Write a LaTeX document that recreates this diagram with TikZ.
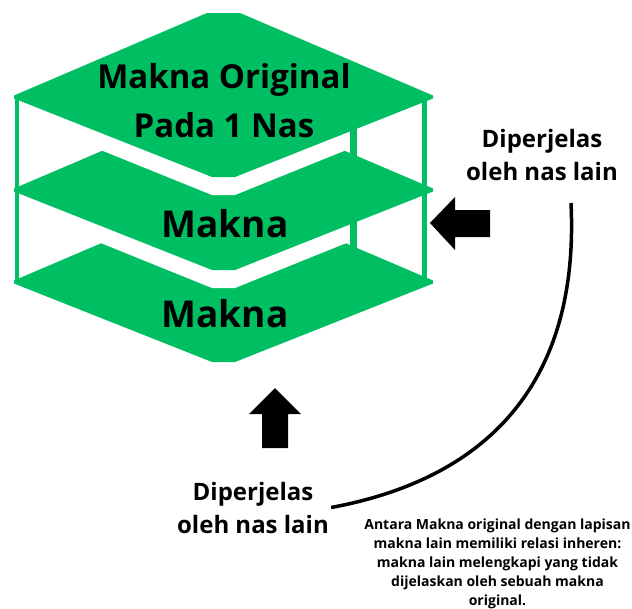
\documentclass[tikz,border=0pt]{standalone}
\usepackage{fontspec}
\setmainfont{Open Sans}
\usetikzlibrary{positioning}
\definecolor{layerGreen}{HTML}{00BF63}
\tikzset{
  layerfig/.style={
    x=1pt, y=-1pt,
    every node/.append style={inner sep=0pt, align=center},
  },
  layer/.style={fill=layerGreen},
  layergap/.style={fill=white},
  blockarrow/.style={fill=black},
  bigtext/.style={font=\bfseries\fontsize{33}{49}\selectfont},
  midtext/.style={font=\bfseries\fontsize{37}{40}\selectfont},
  sidetext/.style={font=\bfseries\fontsize{24}{33}\selectfont},
  notetext/.style={font=\bfseries\fontsize{14}{19}\selectfont},
  link/.style={draw=black, line width=3.5pt},
}
\begin{document}
\begin{tikzpicture}[layerfig]
  \useasboundingbox (0,0) rectangle (632,608);
  % Platten von unten nach oben, jede mit weissem Rand nach unten
  \foreach \c in {282,190,97} {
    \fill[layergap, yshift=-18pt] (207,\c-84) -- (240,\c-84) -- (433,\c) -- (235,\c+80) -- (212,\c+80) -- (14,\c) -- cycle;
    \fill[layer] (207,\c-84) -- (240,\c-84) -- (433,\c-1.5) -- (433,\c+1.5) -- (235,\c+80) -- (212,\c+80) -- (14,\c+1.5) -- (14,\c-1.5) -- cycle;
  }
  % Stuetzen
  \fill[layer] (15,97) rectangle (18.5,284);
  \fill[layer] (421.5,99) rectangle (427,283);
  \fill[layer] (350,128) rectangle (357,250);
  \node[bigtext] (Original) at (224,100.5) {Makna Original\\Pada 1 Nas};
  \node[midtext] (MaknaMid) at (225,224) {Makna};
  \node[midtext] (MaknaLow) at (225,314) {Makna};
  \node[sidetext] (RightLabel) at (542,155) {Diperjelas\\oleh nas lain};
  \node[sidetext] (BottomLabel) at (253,507.5) {Diperjelas\\oleh nas lain};
  \node[notetext, anchor=north] (Note) at (497.5,519) {Antara Makna original dengan lapisan\\makna lain memiliki relasi inheren:\\makna lain melengkapi yang tidak\\dijelaskan oleh sebuah makna\\original.};
  % Blockpfeile
  \fill[blockarrow] (430,223) -- (455,197) -- (455,210) -- (490,210) -- (490,237) -- (455,237) -- (455,250) -- cycle;
  \fill[blockarrow] (275,388) -- (301,414) -- (288,414) -- (288,448) -- (262,448) -- (262,414) -- (249,414) -- cycle;
  \coordinate (CurveTop) at (571,203);
  \draw[link] ([xshift=2pt]BottomLabel.east) .. controls (480,480) and (580,390) .. (CurveTop);
\end{tikzpicture}
\end{document}
